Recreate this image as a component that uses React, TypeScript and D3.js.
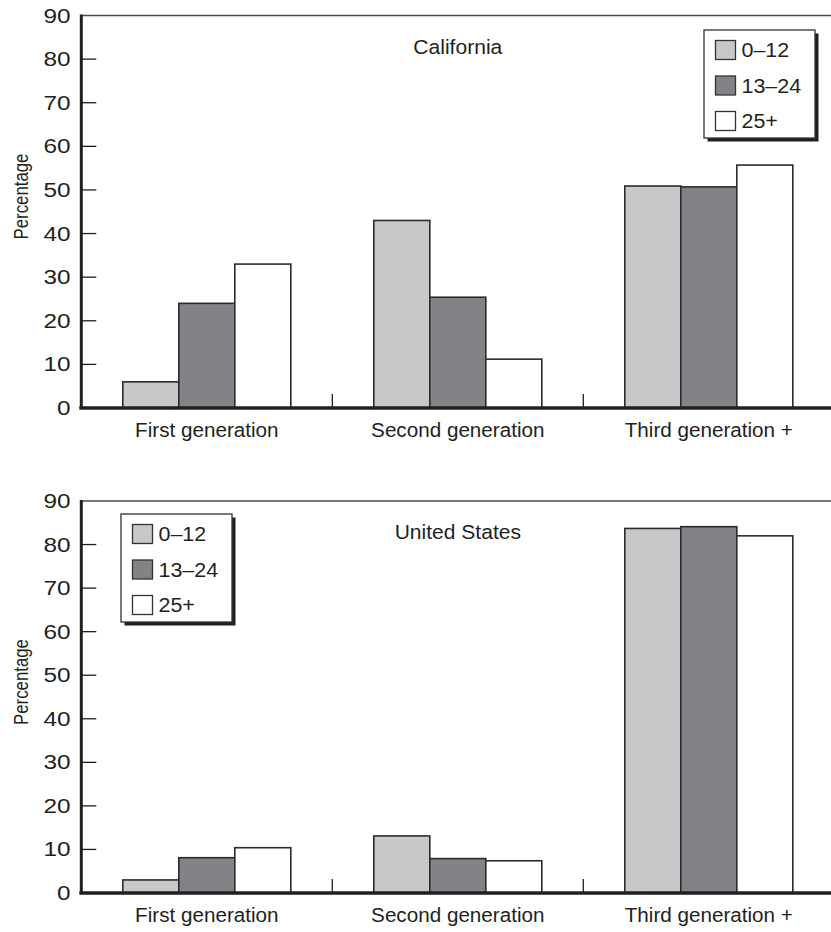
import React from "react";
import * as d3 from "d3";

const categories = ["First generation", "Second generation", "Third generation +"];
const seriesNames = ["0–12", "13–24", "25+"];
const californiaValues = [
  [6.0, 24.0, 33.0],
  [43.0, 25.4, 11.2],
  [50.9, 50.7, 55.7],
];
const usValues = [
  [3.0, 8.1, 10.4],
  [13.1, 7.9, 7.4],
  [83.7, 84.1, 82.0],
];
const yTicks = [0, 10, 20, 30, 40, 50, 60, 70, 80, 90];
const seriesColors = ["#c7c8ca", "#828386", "#ffffff"];

const W = 831;
const H = 932;
const FONT = "'Liberation Sans', Arial, Helvetica, sans-serif";
const INK = "#231f20";

type PanelProps = {
  title: string;
  values: number[][];
  top: number;
  bottom: number;
  legendX: number;
  legendY: number;
};

function SText({ x, y, sx, size, anchor, dy, children }: any) {
  return (
    <text
      transform={`translate(${x}, ${y}) scale(${sx}, 1)`}
      dy={dy}
      textAnchor={anchor}
      fontSize={size}
      fontFamily={FONT}
      fill={INK}
    >
      {children}
    </text>
  );
}

function Panel({ title, values, top, bottom, legendX, legendY }: PanelProps) {
  const left = 81.3;
  const right = 834.3;
  const x = d3.scaleBand<string>().domain(categories).range([left, right]).paddingInner(0).paddingOuter(0);
  const xs = d3.scaleBand<string>().domain(seriesNames).range([0, x.bandwidth()]).paddingInner(0).paddingOuter(0.741);
  const y = d3.scaleLinear().domain([0, 90]).range([bottom, top]);
  const plotMid = (left + right) / 2;

  return (
    <g>
      <line x1={left} x2={W} y1={y(90)} y2={y(90)} stroke="#4a4a4a" strokeWidth={1.5} />
      {categories.map((c, ci) => (
        <g key={c}>
          {seriesNames.map((s, si) => (
            <rect
              key={s}
              x={(x(c) as number) + (xs(s) as number)}
              y={y(values[ci][si])}
              width={xs.bandwidth()}
              height={y(0) - y(values[ci][si])}
              fill={seriesColors[si]}
              stroke="#2b2b2b"
              strokeWidth={1.6}
            />
          ))}
        </g>
      ))}
      {yTicks.map((t) => (
        <g key={t}>
          {t > 0 && t < 90 && (
            <line x1={left} x2={left + 15} y1={y(t)} y2={y(t)} stroke={INK} strokeWidth={1.3} />
          )}
          <SText x={70.5} y={y(t)} dy="0.36em" anchor="end" size={19.5} sx={1.25}>
            {t}
          </SText>
        </g>
      ))}
      {categories.slice(1).map((c) => (
        <line key={c} x1={x(c) as number} x2={x(c) as number} y1={y(0) - 14} y2={y(0)} stroke={INK} strokeWidth={1.3} />
      ))}
      <line x1={left} x2={left} y1={y(90) - 1} y2={y(0)} stroke={INK} strokeWidth={3} />
      <line x1={left - 2} x2={W} y1={y(0)} y2={y(0)} stroke={INK} strokeWidth={3.5} />
      {categories.map((c) => (
        <SText key={c} x={(x(c) as number) + x.bandwidth() / 2} y={y(0) + 29} anchor="middle" size={19.5} sx={1.06}>
          {c}
        </SText>
      ))}
      <text
        transform={`translate(28, ${top + 181}) rotate(-90) scale(1, 1.25)`}
        textAnchor="middle"
        fontSize={16.8}
        fontFamily={FONT}
        fill={INK}
      >
        Percentage
      </text>
      <SText x={plotMid} y={top + 38} anchor="middle" size={19.5} sx={1.08}>
        {title}
      </SText>
      <g transform={`translate(${legendX}, ${legendY})`}>
        <rect x={3.5} y={3.5} width={111} height={108} fill={INK} />
        <rect x={0} y={0} width={111} height={108} fill="#fff" stroke="#333" strokeWidth={1.3} />
        {seriesNames.map((s, si) => (
          <g key={s} transform={`translate(11.5, ${10.5 + si * 35.5})`}>
            <rect x={0} y={0} width={20} height={19} fill={seriesColors[si]} stroke="#333" strokeWidth={1.3} />
            <SText x={26} y={9.5} dy="0.36em" anchor="start" size={19.5} sx={1.1}>
              {s}
            </SText>
          </g>
        ))}
      </g>
    </g>
  );
}

export default function App() {
  return (
    <svg
      width={W}
      height={H}
      viewBox={`0 0 ${W} ${H}`}
      style={{ position: "absolute", left: 0, top: 0, background: "#fff" }}
    >
      <rect x={0} y={0} width={W} height={H} fill="#fff" />
      <Panel title="California" values={californiaValues} top={15.5} bottom={408} legendX={704} legendY={30} />
      <Panel title="United States" values={usValues} top={501} bottom={893} legendX={121} legendY={514} />
    </svg>
  );
}
